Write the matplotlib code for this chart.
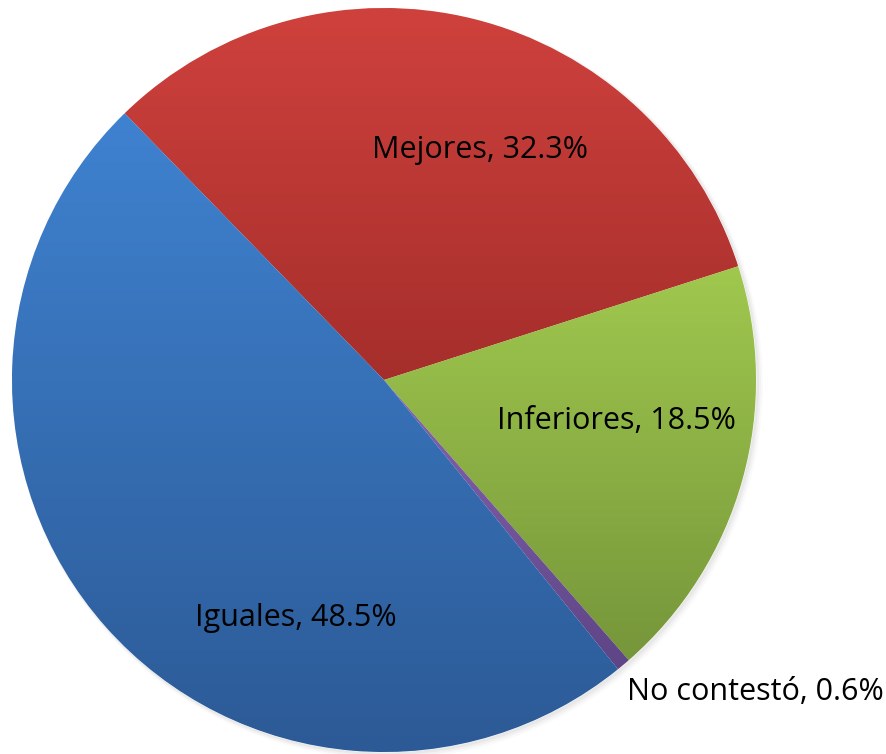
import numpy as np
import matplotlib
matplotlib.use("Agg")
import matplotlib.pyplot as plt
from matplotlib.colors import LinearSegmentedColormap

# data
categories = ["Mejores", "Inferiores", "No contestó", "Iguales"]
values = [32.3, 18.5, 0.6, 48.5]
top_colors = ["#CF413D", "#A0C84E", "#8463B0", "#3F82D0"]
bottom_colors = ["#A52E2B", "#76963A", "#5E4585", "#2C5A96"]

W, H = 887, 754
fig = plt.figure(figsize=(W / 100, H / 100), dpi=100)
ax = fig.add_axes([0, 0, 1, 1])

cx, cy, R = 384, H - 380, 372

# soft shadow
for k, a in enumerate([0.04, 0.03, 0.02]):
    sh = plt.Circle((cx + 2 + k, cy - 2 - k), R + 1 + k, color="black", alpha=a, lw=0)
    ax.add_patch(sh)

wedges, _ = ax.pie(values, colors=top_colors, startangle=134.2, counterclock=False,
                   center=(cx, cy), radius=R, frame=True,
                   wedgeprops=dict(linewidth=0.6, edgecolor="white"))

# vertical gradient inside each wedge
for w, c1, c2 in zip(wedges, top_colors, bottom_colors):
    bb = w.get_path().get_extents(w.get_transform() - ax.transData)
    cmap = LinearSegmentedColormap.from_list("g", [c2, c1])
    grad = np.linspace(0, 1, 256).reshape(-1, 1)
    im = ax.imshow(grad, cmap=cmap, origin="lower", aspect="auto",
                   extent=[bb.x0, bb.x1, bb.y0, bb.y1], zorder=w.get_zorder() + 0.1)
    im.set_clip_path(w)

ax.set_xlim(0, W)
ax.set_ylim(0, H)
ax.set_aspect("equal")
ax.axis("off")

font = "Open Sans"
fs = 22
labels = [f"{c}, {v}%" for c, v in zip(categories, values)]
ax.text(480, H - 150, labels[0], ha="center", va="center", fontsize=fs, family=font, zorder=5)
ax.text(616, H - 421, labels[1], ha="center", va="center", fontsize=fs, family=font, zorder=5)
ax.text(627, H - 692, labels[2], ha="left", va="center", fontsize=fs, family=font, zorder=5)
ax.text(296, H - 618, labels[3], ha="center", va="center", fontsize=fs, family=font, zorder=5)

fig.savefig("out.png", dpi=100, facecolor="white")
